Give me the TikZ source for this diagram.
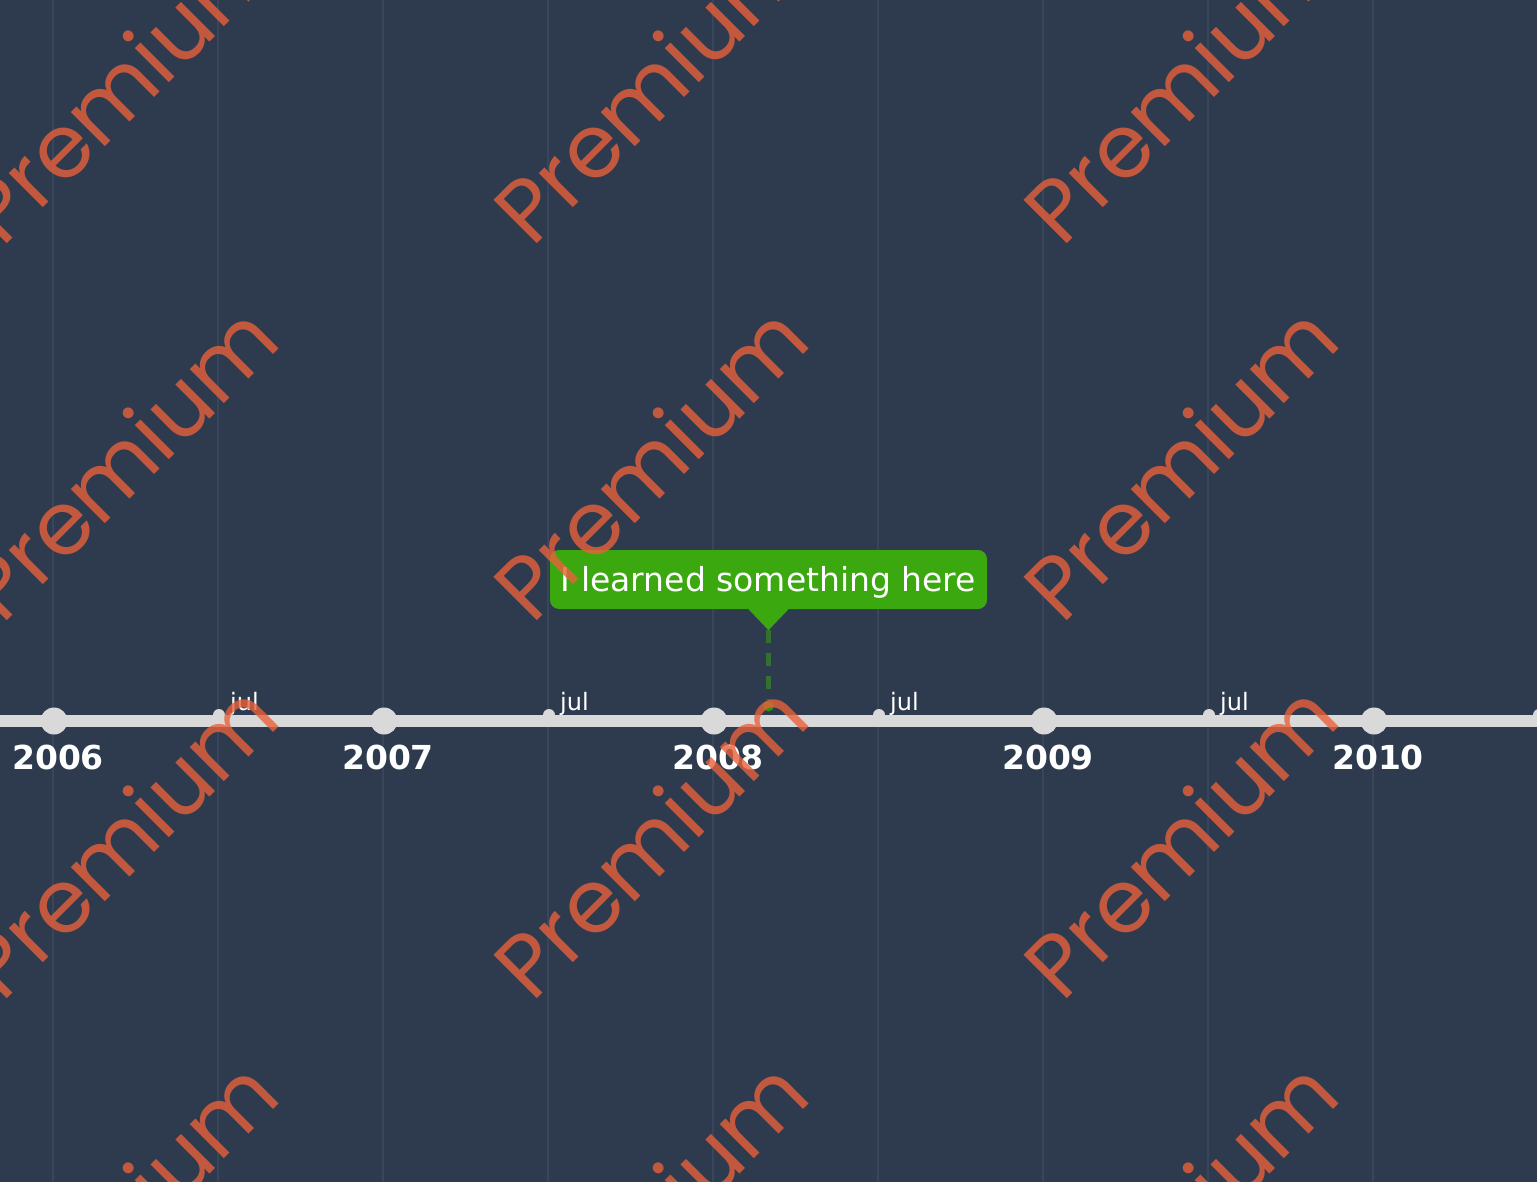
\documentclass[tikz,border=0pt]{standalone}
\usepackage{fontspec}
\setmainfont{DejaVu Sans}
\newfontfamily\wmfont{Poppins}
\definecolor{bgblue}{HTML}{2E3B4F}
\definecolor{gridblue}{HTML}{38455A}
\definecolor{axisgrey}{HTML}{D9D9D9}
\definecolor{eventgreen}{HTML}{3AA80E}
\definecolor{stemgreen}{HTML}{347130}
\definecolor{wmorange}{RGB}{232,97,59}
\begin{document}
\begin{tikzpicture}[x=1pt,y=-1pt,
  yeardot/.style={circle,fill=axisgrey,inner sep=0pt,minimum size=27pt},
  juldot/.style={circle,fill=axisgrey,inner sep=0pt,minimum size=12pt},
  yearlabel/.style={anchor=base,text=white,inner sep=0pt,font=\bfseries\fontsize{33}{40}\selectfont},
  jullabel/.style={anchor=base west,text=white,inner sep=0pt,font=\fontsize{24}{28}\selectfont},
  eventbox/.style={fill=eventgreen,rounded corners=9pt,text=white,inner sep=0pt,
    minimum width=437pt,minimum height=59pt,text height=24pt,text depth=0pt,
    font=\fontsize{33}{40}\selectfont},
  evdot/.style={circle,fill=eventgreen!85!black,inner sep=0pt,minimum size=11pt},
  watermark/.style={rotate=45,text=wmorange,text opacity=0.8,inner sep=0pt,
    font=\wmfont\fontsize{88}{100}\selectfont}]
  \fill[bgblue] (0,0) rectangle (1537,1182);
  \useasboundingbox (0,0) rectangle (1537,1182);
  \clip (0,0) rectangle (1537,1182);
  % faint year and half-year guides
  \draw[gridblue,line width=1.5pt]
    (53,0) -- (53,1182) (218,0) -- (218,1182) (383,0) -- (383,1182)
    (548,0) -- (548,1182) (713,0) -- (713,1182) (878,0) -- (878,1182)
    (1043,0) -- (1043,1182) (1208,0) -- (1208,1182) (1373,0) -- (1373,1182)
    (1538,0) -- (1538,1182);
  % the time axis
  \draw[axisgrey,line width=12pt] (0,721) -- (1537,721);
  \node[juldot] (j2006) at (219,715) {};
  \node[juldot] (j2007) at (549,715) {};
  \node[juldot] (j2008) at (879,715) {};
  \node[juldot] (j2009) at (1209,715) {};
  \node[juldot] (j2010) at (1539,715) {};
  \node[jullabel] (t2006) at (230,710) {jul};
  \node[jullabel] (t2007) at (560,710) {jul};
  \node[jullabel] (t2008) at (890,710) {jul};
  \node[jullabel] (t2009) at (1220,710) {jul};
  \node[yeardot] (d2006) at (54,721) {};
  \node[yeardot] (d2007) at (384,721) {};
  \node[yeardot] (d2008) at (714,721) {};
  \node[yeardot] (d2009) at (1044,721) {};
  \node[yeardot] (d2010) at (1374,721) {};
  \node[yearlabel] (y2006) at (58,769) {2006};
  \node[yearlabel] (y2007) at (388,769) {2007};
  \node[yearlabel] (y2008) at (718,769) {2008};
  \node[yearlabel] (y2009) at (1048,769) {2009};
  \node[yearlabel] (y2010) at (1378,769) {2010};
  % the event and its pointer down to the axis
  \node[eventbox] (event) at (768.5,579.5) {I learned something here};
  \coordinate (tip) at ([yshift=-21pt]event.south);
  \fill[eventgreen] ([xshift=-20pt]event.south) -- ([xshift=20pt]event.south)
    -- (tip) -- cycle;
  \node[evdot] (evmark) at (768.5,706) {};
  \draw[stemgreen,line width=5pt,dash pattern=on 13pt off 10pt] (tip) -- (evmark);
  % watermark tiles
  \node[watermark] (w11) at (120,85) {Premium};
  \node[watermark] (w12) at (650,85) {Premium};
  \node[watermark] (w13) at (1180,85) {Premium};
  \node[watermark] (w21) at (120,462) {Premium};
  \node[watermark] (w22) at (650,462) {Premium};
  \node[watermark] (w23) at (1180,462) {Premium};
  \node[watermark] (w31) at (120,840) {Premium};
  \node[watermark] (w32) at (650,840) {Premium};
  \node[watermark] (w33) at (1180,840) {Premium};
  \node[watermark] (w41) at (120,1217) {Premium};
  \node[watermark] (w42) at (650,1217) {Premium};
  \node[watermark] (w43) at (1180,1217) {Premium};
\end{tikzpicture}
\end{document}
